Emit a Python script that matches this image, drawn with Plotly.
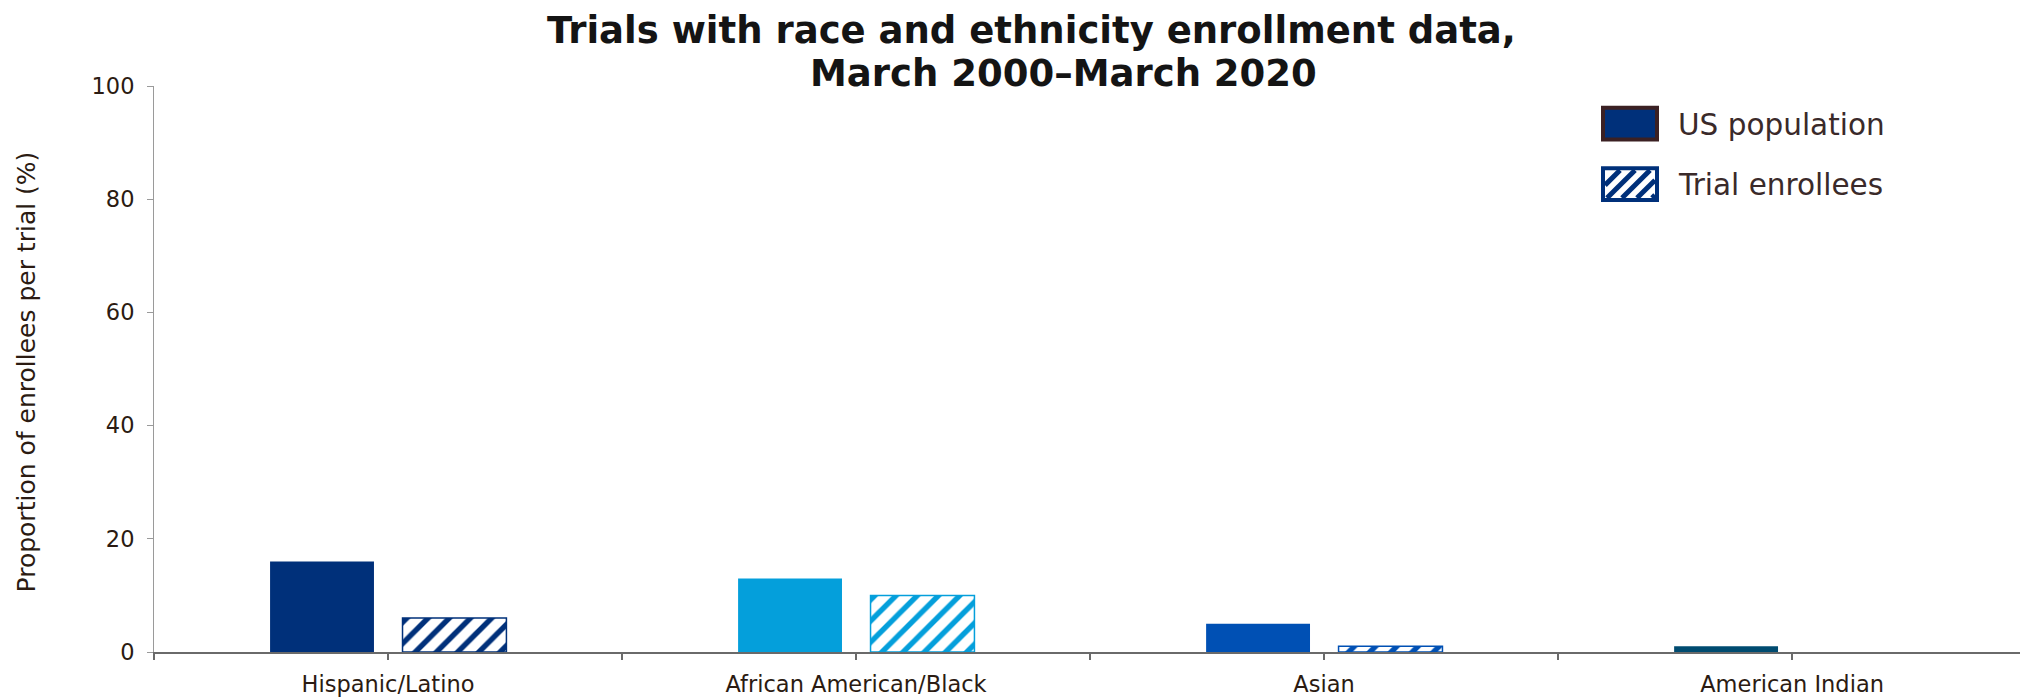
import plotly.graph_objects as go

# ---------------- data ----------------
categories = ["Hispanic/Latino", "African American/Black", "Asian", "American Indian"]
us_population = [16, 13, 5, 1]
trial_enrollees = [6, 10, 1, 0]
bar_colors = ["#00307A", "#049FDB", "#0050B4", "#004B70"]
series_names = ["US population", "Trial enrollees"]
y_ticks = [0, 20, 40, 60, 80, 100]
title_lines = ["Trials with race and ethnicity enrollment data,", "March 2000\u2013March 2020"]
y_title = "Proportion of enrollees per trial (%)"

# ---------------- layout constants ----------------
W, H = 2020, 697
L, R, T, B = 154, 0, 86, 40
PW, PH = W - L - R, H - T - B
FONT = "DejaVu Sans"
TXT = "#2B1B12"

idx = list(range(len(categories)))
tickvals, ticktext = [], []
for i, c in enumerate(categories):
    tickvals += [i - 0.5, i]
    ticktext += ["", c]
tickvals.append(len(categories) - 0.5)
ticktext.append("")

fig = go.Figure()
fig.add_trace(go.Bar(
    x=idx, y=us_population, name=series_names[0],
    width=0.222, offset=-0.252,
    marker=dict(color=bar_colors, line=dict(width=0)),
    showlegend=False,
))
fig.add_trace(go.Bar(
    x=idx, y=trial_enrollees, name=series_names[1],
    width=0.222, offset=0.031,
    marker=dict(color=bar_colors,
                line=dict(color=bar_colors, width=[1.5 if v > 0 else 0 for v in trial_enrollees]),
                pattern=dict(shape="/", fgcolor=bar_colors, bgcolor="white",
                             size=15, solidity=0.36, fillmode="replace")),
    showlegend=False,
))


def px_x(px):
    return (px - L) / PW


def px_y(py):
    return (T + PH - py) / PH


shapes = []
annotations = []
# legend swatch 1 : solid
bx0, bx1 = 1603, 1657
shapes.append(dict(type="rect", xref="paper", yref="paper",
                   x0=px_x(bx0), x1=px_x(bx1), y0=px_y(140), y1=px_y(108),
                   fillcolor=bar_colors[0], line=dict(color="#3B2023", width=4)))
# legend swatch 2 : striped
xl, xr, yt, yb = bx0 + 2, bx1 - 2, 171, 199
hh = yb - yt
c = xl - hh
while c < xr:
    t0 = max(0, xl - c)
    t1 = min(hh, xr - c)
    if t1 > t0:
        shapes.append(dict(type="line", xref="paper", yref="paper",
                           x0=px_x(c + t0), y0=px_y(yb - t0),
                           x1=px_x(c + t1), y1=px_y(yb - t1),
                           line=dict(color=bar_colors[0], width=5)))
    c += 15
shapes.append(dict(type="rect", xref="paper", yref="paper",
                   x0=px_x(bx0), x1=px_x(bx1), y0=px_y(201), y1=px_y(169),
                   fillcolor="rgba(0,0,0,0)", line=dict(color=bar_colors[0], width=4)))
for name, yc in zip(series_names, [125, 186]):
    annotations.append(dict(text=name, xref="paper", yref="paper",
                            x=px_x(1676), y=px_y(yc), xanchor="left", yanchor="middle",
                            showarrow=False, font=dict(family=FONT, size=29.5, color="#3A2A2A")))

# title lines
for line, xc, yc in zip(title_lines, [1031, 1063], [30, 73]):
    annotations.append(dict(text="<b>%s</b>" % line, xref="paper", yref="paper",
                            x=px_x(xc), y=px_y(yc), xanchor="center", yanchor="middle",
                            showarrow=False, font=dict(family=FONT, size=37, color="#141414")))
# y axis title
annotations.append(dict(text=y_title, xref="paper", yref="paper",
                        x=px_x(26), y=px_y(375), xanchor="center", yanchor="middle",
                        textangle=-90, showarrow=False,
                        font=dict(family=FONT, size=25, color=TXT)))

fig.update_layout(
    width=W, height=H,
    margin=dict(l=L, r=R, t=T, b=B, pad=0),
    paper_bgcolor="white", plot_bgcolor="white",
    barmode="overlay",
    xaxis=dict(range=[-0.5, 3.487], tickmode="array", tickvals=tickvals, ticktext=ticktext,
               showgrid=False, zeroline=False, showline=True, linecolor="#6A6A6A", linewidth=2,
               ticks="outside", ticklen=6, tickcolor="#6A6A6A", tickwidth=1.5,
               ticklabelstandoff=5,
               tickfont=dict(family=FONT, size=22.5, color=TXT)),
    yaxis=dict(range=[0, 100], tickmode="array", tickvals=y_ticks,
               showgrid=False, zeroline=False, showline=True, linecolor="#9A9A9A", linewidth=1,
               ticks="outside", ticklen=6, tickcolor="#9A9A9A",
               ticklabelstandoff=8,
               tickfont=dict(family=FONT, size=22.5, color=TXT)),
    shapes=shapes, annotations=annotations,
)

fig.write_html("out.html", config={"displayModeBar": False},
               post_script="document.body.style.margin='0px';")
